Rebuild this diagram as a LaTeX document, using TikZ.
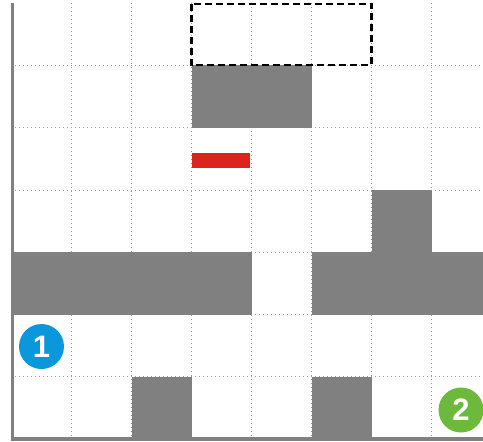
\documentclass[tikz,border=0pt]{standalone}
\usepackage{fontspec}
\setmainfont{Liberation Sans}
\definecolor{wallgray}{HTML}{808080}
\definecolor{gridgray}{HTML}{9A9A9A}
\definecolor{blockred}{HTML}{DC241F}
\definecolor{badgeblue}{HTML}{0A97DC}
\definecolor{badgegreen}{HTML}{6CB93C}
\begin{document}
\begin{tikzpicture}[x=1pt,y=-1pt,
  gridline/.style={gridgray, line width=0.8pt, dash pattern=on 0.8pt off 3.2pt},
  block/.style={fill=wallgray, draw=none},
  wall/.style={fill=wallgray, draw=none},
  badge/.style={circle, minimum size=45pt, inner sep=0pt, text=white, font=\bfseries\fontsize{31}{31}\selectfont},
  target/.style={draw=black, line width=2.2pt, dash pattern=on 7pt off 4pt}]
\useasboundingbox (0,0) rectangle (483,442);
% grid
\foreach \x in {71.5,131.5,191.5,251.5,311.5,371.5,431.5}
  \draw[gridline] (\x,3) -- (\x,437);
\foreach \y in {65.3,127.6,189.9,252.2,314.5,376.8}
  \draw[gridline] (11,\y) -- (483,\y);
% blocks
\fill[block] (191.5,65.3) rectangle (311.5,127.6);
\fill[block] (371.5,189.9) rectangle (431.5,252.2);
\fill[block] (11,252.2) rectangle (251.5,314.5);
\fill[block] (311.5,252.2) rectangle (483,314.5);
\fill[block] (131.5,376.8) rectangle (191.5,437);
\fill[block] (311.5,376.8) rectangle (371.5,437);
% red bar
\fill[blockred] (192,152.5) rectangle (249.5,167.5);
% walls
\fill[wall] (11,3) rectangle (14,441);
\fill[wall] (11,437) rectangle (483,441);
% target
\draw[target] (191.5,4.2) rectangle (371.5,65.3);
% badges
\node[badge, fill=badgeblue] (b1) at (41.5,346.5) {1};
\node[badge, fill=badgegreen] (b2) at (461,410) {2};
\end{tikzpicture}
\end{document}
